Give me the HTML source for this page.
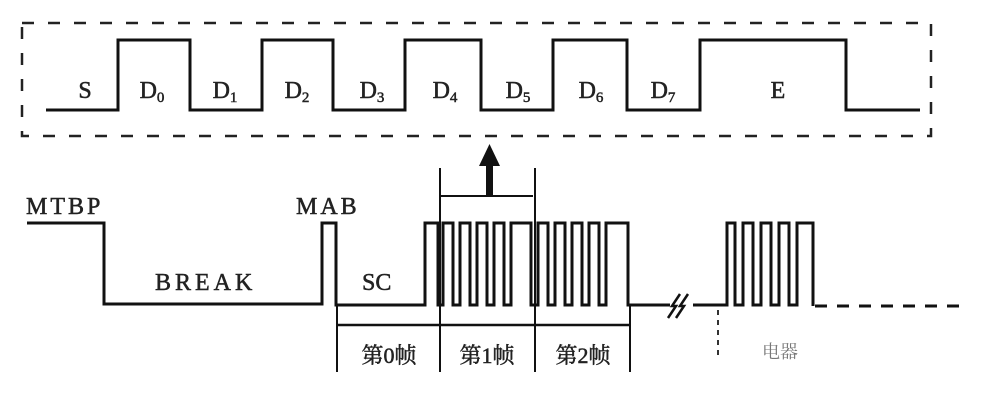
<!DOCTYPE html>
<html><head><meta charset="utf-8"><style>
html,body{margin:0;padding:0;background:#fff;}
svg{display:block}
text{font-family:"Liberation Serif","Noto Serif CJK SC",serif;fill:#222;stroke:#222;stroke-width:0.5}
</style></head><body>
<svg width="994" height="401" viewBox="0 0 994 401" xmlns="http://www.w3.org/2000/svg">
<rect x="0" y="0" width="994" height="401" fill="#fff"/>
<rect x="22" y="23" width="909" height="113" fill="none" stroke="#222" stroke-width="2.5" stroke-dasharray="12,14"/>
<polyline fill="none" stroke="#111" stroke-width="3" points="46,110 118,110 118,40 190,40 190,110 262,110 262,40 333,40 333,110 405,110 405,40 481,40 481,110 553,110 553,40 627,40 627,110 700,110 700,40 846,40 846,110 920,110"/>
<g font-size="24" text-anchor="middle">
<text x="85" y="98">S</text>
<text x="152" y="98">D<tspan font-size="15" dy="4">0</tspan></text>
<text x="225" y="98">D<tspan font-size="15" dy="4">1</tspan></text>
<text x="297" y="98">D<tspan font-size="15" dy="4">2</tspan></text>
<text x="372" y="98">D<tspan font-size="15" dy="4">3</tspan></text>
<text x="445" y="98">D<tspan font-size="15" dy="4">4</tspan></text>
<text x="518" y="98">D<tspan font-size="15" dy="4">5</tspan></text>
<text x="591" y="98">D<tspan font-size="15" dy="4">6</tspan></text>
<text x="663" y="98">D<tspan font-size="15" dy="4">7</tspan></text>
<text x="778" y="98">E</text>
</g>
<line x1="440" y1="168" x2="440" y2="372" stroke="#111" stroke-width="2"/>
<line x1="535" y1="168" x2="535" y2="372" stroke="#111" stroke-width="2"/>
<line x1="440" y1="196" x2="533" y2="196" stroke="#111" stroke-width="2"/>
<rect x="486" y="162" width="7" height="34" fill="#111"/>
<polygon points="489.5,144 479,166 500,166" fill="#111"/>
<polyline fill="none" stroke="#111" stroke-width="3" points="27,223 104,223 104,304 322,304 322,223 336,223 336,305 425,305 425,223 438,223 438,305 443,305 443,223 453,223 453,305 460,305 460,223 470,223 470,305 477,305 477,223 487,223 487,305 494,305 494,223 504,223 504,305 511,305 511,223 531,223 531,305 538,305 538,223 548,223 548,305 555,305 555,223 565,223 565,305 572,305 572,223 582,223 582,305 589,305 589,223 599,223 599,305 606,305 606,223 628,223 628,305 670,305"/>
<path d="M668 318 L676 306 L672 306 L680 294 M676 318 L684 306 L680 306 L688 294" fill="none" stroke="#111" stroke-width="2.5"/>
<polyline fill="none" stroke="#111" stroke-width="3" points="693,305 727,305 727,223 735,223 735,305 743,305 743,223 753,223 753,305 761,305 761,223 771,223 771,305 779,305 779,223 789,223 789,305 797,305 797,223 813,223 813,306"/>
<line x1="815" y1="306" x2="965" y2="306" stroke="#111" stroke-width="3" stroke-dasharray="12,10"/>
<line x1="718" y1="310" x2="718" y2="355" stroke="#333" stroke-width="2" stroke-dasharray="5,5"/>
<line x1="337" y1="305" x2="337" y2="372" stroke="#111" stroke-width="2"/>
<line x1="630" y1="305" x2="630" y2="372" stroke="#111" stroke-width="2"/>
<line x1="337" y1="325" x2="630" y2="325" stroke="#111" stroke-width="2.5"/>
<g font-size="24">
<text x="26" y="214" letter-spacing="3">MTBP</text>
<text x="155" y="290" letter-spacing="4">BREAK</text>
<text x="296" y="214" letter-spacing="3">MAB</text>
<text x="362" y="290">SC</text>
</g>
<g font-size="22" text-anchor="middle">
<text x="389" y="363">第0帧</text>
<text x="487" y="363">第1帧</text>
<text x="583" y="363">第2帧</text>
</g>
<text x="780" y="358" font-size="18" text-anchor="middle" style="fill:#777;stroke:none">电器</text>
</svg>
</body></html>
